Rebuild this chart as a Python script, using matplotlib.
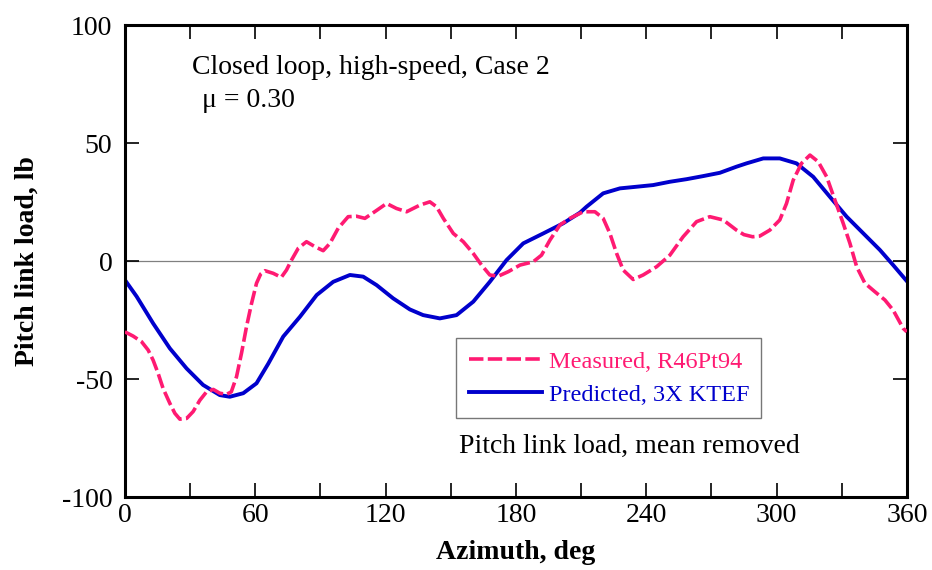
import matplotlib.pyplot as plt
from matplotlib.ticker import MultipleLocator

plt.rcParams['font.family'] = ['Liberation Serif', 'DejaVu Serif']
plt.rcParams['axes.unicode_minus'] = False

# Measured, R46Pt94 (azimuth deg, load lb)
meas_az = [0, 3.8, 7.7, 10.7, 13, 15.3, 17.6, 20.7, 23, 25.3, 28.4, 31.4, 34.5, 37.6, 40.7, 43.7,
           46.8, 49, 51.4, 53.7, 56, 58.3, 60.6, 62.5, 64.5, 68.3, 72, 74.4, 76.7, 79.8, 83.6,
           87.5, 91.3, 94.4, 98.2, 102.8, 106.6, 110.5, 115, 120.5, 125, 129.7, 135.8, 140.4,
           143.5, 146.6, 151.2, 155.8, 160.4, 164.2, 168, 171.9, 176.5, 181.9, 188, 191.8, 195.7,
           200.3, 204.9, 211, 216.4, 220.2, 223.3, 226.4, 229.4, 234, 238.6, 244.8, 250.9, 257,
           263.2, 269.3, 275.5, 281.6, 285, 289, 292.3, 296.9, 301.5, 304.6, 307.7, 311.5, 315.4,
           319.2, 323.1, 326.9, 330.7, 333.8, 336.9, 340.7, 345.3, 349.9, 353.7, 358.3, 360]
meas_load = [-30, -31.8, -34.2, -37.7, -42, -47.6, -54, -60.3, -64.5, -67, -66.7, -63.8, -59,
             -55.4, -54.4, -56, -56.5, -55.4, -49, -39, -27.8, -18, -9.4, -5.5, -4.1, -5.2, -6.9,
             -3.8, 0.4, 5.4, 8.2, 6.1, 4.4, 7.5, 13.9, 18.8, 19, 18.1, 20.9, 24.4, 22.3, 20.9,
             23.7, 25.1, 23, 18.1, 11.7, 8.2, 3.2, -1.7, -5.9, -6.4, -4.5, -1.7, -0.3, 2.5, 8.9,
             15.3, 18.1, 20.9, 20.9, 18.1, 11.7, 3.2, -3.8, -7.8, -5.9, -2.4, 2.5, 10.3, 16.7,
             18.8, 17.4, 13.1, 11.2, 10.3, 10.6, 13.1, 17.4, 24.4, 34.3, 41.4, 44.9, 42.1, 35.7,
             25.8, 16, 7.5, -2.4, -9.4, -13, -16.5, -20.8, -28.5, -30]

# Predicted, 3X KTEF
pred_az = [0, 5.4, 13, 20.7, 28.4, 36, 43.7, 48.3, 54.5, 60.6, 66, 72.9, 80.6, 88.3, 95.9, 103.6,
           109.7, 115.9, 123.5, 131.2, 137.3, 145, 152.7, 160.4, 168, 175.7, 183.4, 192.6, 201.8,
           209.5, 212.5, 220.2, 227.9, 235.6, 243.2, 250.9, 258.6, 266.2, 273.9, 281.6, 286.2,
           293.9, 301.5, 309.2, 316.9, 324.6, 332.3, 340, 347.6, 353.7, 360]
pred_load = [-8, -15, -26.4, -37, -45.5, -52.5, -56.8, -57.5, -56, -51.8, -43.5, -32, -23.6,
             -14.4, -8.8, -5.9, -6.6, -10.2, -15.8, -20.5, -22.9, -24.3, -22.9, -17.2, -8.8, 0.4,
             7.5, 11.7, 16, 20.5, 23, 28.7, 30.8, 31.5, 32.2, 33.6, 34.7, 36, 37.4, 40, 41.4,
             43.5, 43.5, 41.4, 35.7, 27.2, 18.8, 11.7, 4.7, -1.7, -8.5]

pink = '#FF1A72'
blue = '#0000CC'

fig = plt.figure(figsize=(9.32, 5.70), dpi=100)
ax = fig.add_axes([0.134, 0.128, 0.839, 0.828])

ax.axhline(0, color='gray', linewidth=0.9, zorder=1)
ax.plot(meas_az, meas_load, color=pink, linewidth=2.6, linestyle=(0, (4, 1.2)),
        label='Measured, R46Pt94', zorder=3)
ax.plot(pred_az, pred_load, color=blue, linewidth=2.8, label='Predicted, 3X KTEF', zorder=2)

ax.set_xlim(0, 360)
ax.set_ylim(-100, 100)
ax.xaxis.set_major_locator(MultipleLocator(60))
ax.xaxis.set_minor_locator(MultipleLocator(30))
ax.yaxis.set_major_locator(MultipleLocator(50))
ax.tick_params(which='both', direction='in', top=True, right=True, width=1.2, labelsize=20)
ax.tick_params(which='major', length=10, pad=4)
ax.tick_params(axis='y', which='major', pad=9)
ax.tick_params(which='minor', length=10)
for s in ax.spines.values():
    s.set_linewidth(2.2)

ax.set_xlabel('Azimuth, deg', fontsize=20, fontweight='bold', labelpad=9)
ax.set_ylabel('Pitch link load, lb', fontsize=20, fontweight='bold', labelpad=16)

ax.text(31, 82, 'Closed loop, high-speed, Case 2', fontsize=20, va='center')
ax.text(35.5, 68, '\u03bc = 0.30', fontsize=20, va='center')
ax.text(154, -78.5, 'Pitch link load, mean removed', fontsize=20, va='center')

leg = ax.legend(loc='lower left', bbox_to_anchor=(0.424, 0.168), fontsize=17.5, frameon=True,
                fancybox=False, handlelength=3.0, borderpad=0.5, labelspacing=0.45,
                handletextpad=0.3, borderaxespad=0)
leg.get_frame().set_edgecolor('#555555')
leg.get_frame().set_linewidth(1.0)
for t, c in zip(leg.get_texts(), [pink, blue]):
    t.set_color(c)

fig.savefig('out.png', dpi=100)
